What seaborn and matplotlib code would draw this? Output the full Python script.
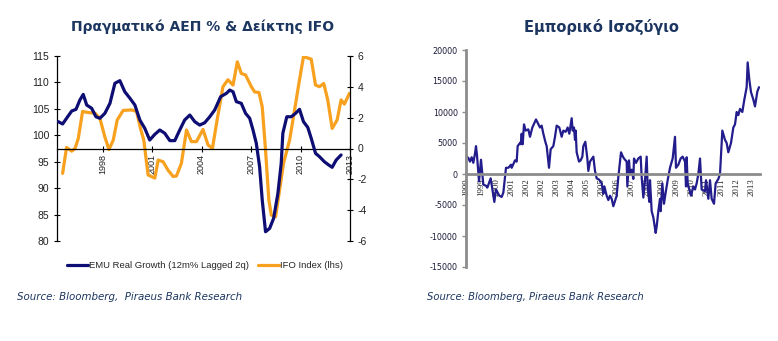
import matplotlib
matplotlib.use("Agg")
import matplotlib.pyplot as plt
import seaborn as sns
import pandas as pd
import numpy as np

# ---------------- data: left chart ----------------
ifo_year = [1995.58, 1995.82, 1996.13, 1996.33, 1996.53, 1996.79, 1997.13, 1997.54, 1997.84,
            1998.14, 1998.39, 1998.65, 1998.89, 1999.25, 1999.76, 2000.06, 2000.30, 2000.50,
            2000.76, 2001.17, 2001.37, 2001.67, 2001.97, 2002.28, 2002.48, 2002.78, 2003.09,
            2003.39, 2003.69, 2004.09, 2004.39, 2004.66, 2004.95, 2005.30, 2005.60, 2005.91,
            2006.17, 2006.41, 2006.67, 2007.02, 2007.22, 2007.48, 2007.68, 2007.88, 2008.08,
            2008.23, 2008.49, 2008.73, 2008.97, 2009.34, 2009.64, 2009.94, 2010.18, 2010.65,
            2010.91, 2011.15, 2011.41, 2011.65, 2011.92, 2012.22, 2012.46, 2012.66, 2012.96]
ifo_value = [92.8, 97.7, 97.0, 97.5, 99.4, 104.5, 104.3, 104.2, 103.2,
             99.7, 97.3, 99.1, 102.9, 104.7, 104.8, 104.5, 101.3, 99.1,
             92.5, 91.9, 95.3, 95.0, 93.4, 92.2, 92.3, 94.7, 101.0,
             98.8, 98.8, 101.1, 98.2, 97.5, 103.0, 109.2, 110.5, 109.5,
             113.9, 111.7, 111.4, 109.2, 108.2, 108.1, 105.4, 97.2, 87.8,
             84.9, 84.6, 89.6, 94.7, 99.1, 104.8, 110.5, 114.9, 114.4,
             109.5, 109.2, 109.8, 106.7, 101.3, 102.9, 106.7, 105.9, 107.9]

emu_year = [1995.32, 1995.58, 1995.82, 1996.13, 1996.39, 1996.63, 1996.83, 1997.04, 1997.34,
            1997.60, 1997.84, 1998.14, 1998.45, 1998.75, 1999.05, 1999.35, 1999.66, 1999.96,
            2000.26, 2000.56, 2000.86, 2001.17, 2001.47, 2001.77, 2002.08, 2002.38, 2002.68,
            2002.98, 2003.29, 2003.59, 2003.89, 2004.19, 2004.50, 2004.80, 2005.16, 2005.51,
            2005.71, 2005.91, 2006.11, 2006.41, 2006.67, 2006.92, 2007.12, 2007.32, 2007.52,
            2007.68, 2007.88, 2008.13, 2008.37, 2008.63, 2008.83, 2008.93, 2009.17, 2009.44,
            2009.70, 2009.94, 2010.18, 2010.44, 2010.65, 2010.91, 2011.15, 2011.45, 2011.71,
            2011.92, 2012.16, 2012.46]
emu_value = [1.74, 1.59, 1.96, 2.43, 2.54, 3.15, 3.51, 2.82, 2.61,
             2.06, 1.96, 2.28, 2.93, 4.23, 4.40, 3.68, 3.26, 2.82,
             1.85, 1.31, 0.55, 0.92, 1.20, 0.99, 0.51, 0.51, 1.20,
             1.85, 2.17, 1.74, 1.52, 1.67, 2.06, 2.50, 3.36, 3.58,
             3.79, 3.68, 3.04, 2.93, 2.28, 1.96, 1.20, 0.34, -1.18,
             -3.34, -5.40, -5.18, -4.53, -2.91, -0.96, 0.99, 2.06, 2.06,
             2.28, 2.54, 1.74, 1.37, 0.66, -0.31, -0.53, -0.86, -1.07,
             -1.22, -0.75, -0.42]

left_xticks = [1998, 2001, 2004, 2007, 2010, 2013]
left_yticks = [80, 85, 90, 95, 100, 105, 110, 115]
right_yticks = [-6, -4, -2, 0, 2, 4, 6]

# ---------------- data: right chart (months since Jan 1999) ----------------
tb_month = [0, 1, 2, 3, 4, 5, 5.6, 6.2, 7.4, 8.6, 10, 11.6, 12.4, 14.4, 16.6, 17.6, 19.6, 21, 22,
            23.6, 25, 26.6, 27, 29, 30, 30.6, 32, 32.4, 33, 33.6, 34.4, 35.4, 37, 38, 39.4, 41.6,
            44, 45, 46, 47.4, 48, 49.4, 50.4, 52, 53, 54, 55.6, 57, 58, 59.4, 60.6, 61.6, 63,
            63.6, 64.4, 65, 65.4, 66, 67.4, 68.4, 69.4, 70, 71.2, 72.4, 73, 74, 76, 77, 78, 79.4,
            81, 82, 82.6, 84, 85, 86, 87, 88, 90, 91, 92, 92.6, 93.4, 94.4, 96, 96.4, 97.4, 98,
            99, 100, 100.4, 101.6, 103, 104.4, 105, 106, 107, 108, 108.6, 109.6, 110, 111, 112,
            113.4, 114, 115, 116, 116.4, 117.4, 118.4, 119.4, 120.6, 122, 123.6, 125, 125.6, 127,
            128.4, 129.6, 131, 131.6, 132, 132.6, 134.6, 136, 137, 138, 139, 140, 141, 143, 143.6,
            145, 146, 147, 148.4, 149.4, 151, 152, 152.6, 153.4, 155, 156, 157, 158.6, 160, 161,
            162, 163, 164, 165.4, 166.6, 168, 168.6, 169.6, 170.6, 172, 173, 174.4, 175.4]
tb_value = [2800, 2600, 2000, 2700, 1800, 3300, 4500, 3000, -1200, 2300, -1700, -1900, -2200, -700,
            -4500, -2500, -3500, -3700, -3000, 1000, 1000, 1500, 1000, 2200, 2000, 4500, 5000, 4800,
            6500, 4800, 8000, 7000, 7200, 6000, 7500, 8800, 7500, 7800, 6500, 5000, 4500, 1000, 4000,
            4500, 6000, 7800, 7500, 6000, 7000, 6800, 7500, 6500, 9000, 7000, 7500, 5500, 7000, 3500,
            2000, 2200, 2800, 4500, 5200, 2500, 500, 2000, 2800, 500, -700, -900, -1500, -3200, -2000,
            -3500, -4200, -3500, -4000, -5200, -3500, -500, 2000, 3500, 3000, 2500, 2000, -2000, 2200,
            0, 700, -800, 2500, 1800, 2500, 2800, -500, -3800, -1000, 2800, -2000, -4500, -1000, -6000,
            -7000, -9500, -8500, -6000, -4000, -6000, -1500, -4800, -3000, -1000, 1000, 2500, 6000,
            1000, 1500, 2500, 2800, 2000, -2000, 2700, -1500, -3500, -2000, -2500, -1500, 0, 2500,
            -2500, -2800, -1000, -4000, -1000, -4000, -4800, -1500, -800, 0, 3000, 7000, 5500, 5000,
            3500, 5000, 7500, 8000, 10000, 9500, 10500, 10000, 12000, 14000, 18000, 15200, 13200,
            12000, 10900, 13300, 14000]

tb_tick_month = list(range(0, 176, 9))
tb_tick_label = ["1999", "1999", "2000", "2001", "2002", "2002", "2003", "2004", "2005", "2005",
                 "2006", "2007", "2008", "2008", "2009", "2010", "2011", "2011", "2012", "2013"]
tb_yticks = [-15000, -10000, -5000, 0, 5000, 10000, 15000, 20000]

# ---------------- style ----------------
sns.set_theme(style="white")
plt.rcParams["font.family"] = ["DejaVu Sans"]

NAVY = "#0d0d73"
ORANGE = "#f7a11e"
TITLE = "#1c3660"
TB_LINE = "#221c8c"

fig = plt.figure(figsize=(7.78, 3.41), dpi=100)
fig.patch.set_facecolor("white")

# ---------------- left chart ----------------
ax = fig.add_axes([57/778, 1-241/341, (350-57)/778, (241-56)/341])
ax2 = ax.twinx()

df_ifo = pd.DataFrame({"year": ifo_year, "value": ifo_value})
df_emu = pd.DataFrame({"year": emu_year, "value": emu_value})
sns.lineplot(data=df_ifo, x="year", y="value", ax=ax, color=ORANGE, linewidth=2.3,
             label="IFO Index (lhs)", legend=False)
sns.lineplot(data=df_emu, x="year", y="value", ax=ax2, color=NAVY, linewidth=2.3,
             label="EMU Real Growth (12m% Lagged 2q)", legend=False)

ax.set_xlim(1995.24, 2013.0)
ax.set_ylim(80, 115)
ax2.set_ylim(-6, 6)
ax.set_xlabel("")
ax.set_ylabel("")
ax2.set_ylabel("")
ax.set_facecolor("none")

for a in (ax, ax2):
    a.spines["top"].set_visible(False)
for s in ("left", "right"):
    ax.spines[s].set_color("black")
    ax.spines[s].set_linewidth(0.9)
    ax2.spines[s].set_color("black")
    ax2.spines[s].set_linewidth(0.9)
ax.spines["right"].set_visible(False)
ax2.spines["left"].set_visible(False)
ax2.spines["bottom"].set_visible(False)
ax.spines["bottom"].set_position(("axes", 0.5))
ax.spines["bottom"].set_color("black")
ax.spines["bottom"].set_linewidth(0.9)

ax.tick_params(axis="y", direction="inout", length=5, width=0.8, color="black",
               pad=3, left=True)
ax2.tick_params(axis="y", direction="inout", length=5, width=0.8, color="black",
                pad=3, right=True)
ax.tick_params(axis="x", direction="inout", length=4, width=0.8, color="black", pad=2, bottom=True)

ax.set_yticks(left_yticks)
ax.set_yticklabels([str(t) for t in left_yticks], fontsize=7.5, family="Liberation Sans",
                   color="#222222")
ax2.set_yticks(right_yticks)
ax2.set_yticklabels([str(t) for t in right_yticks], fontsize=7.5, family="Liberation Sans",
                    color="#222222")
ax.set_xticks(left_xticks)
ax.set_xticklabels([str(t) for t in left_xticks], rotation=90, fontsize=6.5,
                   family="Liberation Sans", color="#222222", va="top", ha="center")
ax.grid(False)
ax2.grid(False)

fig.text(203/778, 1-27/341, "Πραγματικό ΑΕΠ % & Δείκτης IFO", ha="center", va="center",
         fontsize=10, fontweight="bold", color=TITLE)

h1, l1 = ax2.get_legend_handles_labels()
h2, l2 = ax.get_legend_handles_labels()
fig.legend(h1 + h2, l1 + l2, loc="center", bbox_to_anchor=(205/778, 1-265.5/341), ncol=2,
           frameon=False, prop={"family": "Liberation Sans", "size": 6.8},
           handlelength=2.2, handletextpad=0.1, columnspacing=1.0)

fig.text(17/778, 1-297.5/341, "Source: Bloomberg,  Piraeus Bank Research", ha="left", va="center",
         fontsize=7.4, style="italic", color=TITLE)

# ---------------- right chart ----------------
bx = fig.add_axes([466/778, 1-267/341, (760-466)/778, (267-50)/341])
df_tb = pd.DataFrame({"month": tb_month, "value": tb_value})
sns.lineplot(data=df_tb, x="month", y="value", ax=bx, color=TB_LINE, linewidth=1.6)
bx.set_xlim(-0.4, 176)
bx.set_ylim(-15000, 20000)
bx.set_xlabel("")
bx.set_ylabel("")
bx.grid(False)
bx.set_facecolor("none")
for s in ("top", "right"):
    bx.spines[s].set_visible(False)
bx.spines["left"].set_color("#8c8c8c")
bx.spines["left"].set_linewidth(2)
bx.spines["bottom"].set_position(("data", 0))
bx.spines["bottom"].set_color("#8c8c8c")
bx.spines["bottom"].set_linewidth(2)
bx.tick_params(axis="y", direction="out", length=3, width=1, color="#8c8c8c", pad=3, left=True)
bx.tick_params(axis="x", length=0, pad=3)

bx.set_yticks(tb_yticks)
bx.set_yticklabels([str(t) for t in tb_yticks], fontsize=5.8, color="#1a1a3a")
bx.set_xticks(tb_tick_month)
bx.set_xticklabels(tb_tick_label, rotation=90, fontsize=6.3, color="#222222",
                   family="Liberation Serif", va="top", ha="center")

fig.text(601/778, 1-27/341, "Εμπορικό Ισοζύγιο", ha="center", va="center",
         fontsize=10.5, fontweight="bold", color=TITLE)
fig.text(427/778, 1-297/341, "Source: Bloomberg, Piraeus Bank Research", ha="left", va="center",
         fontsize=7.2, style="italic", color=TITLE)

fig.savefig("out.png", dpi=100, facecolor="white")
